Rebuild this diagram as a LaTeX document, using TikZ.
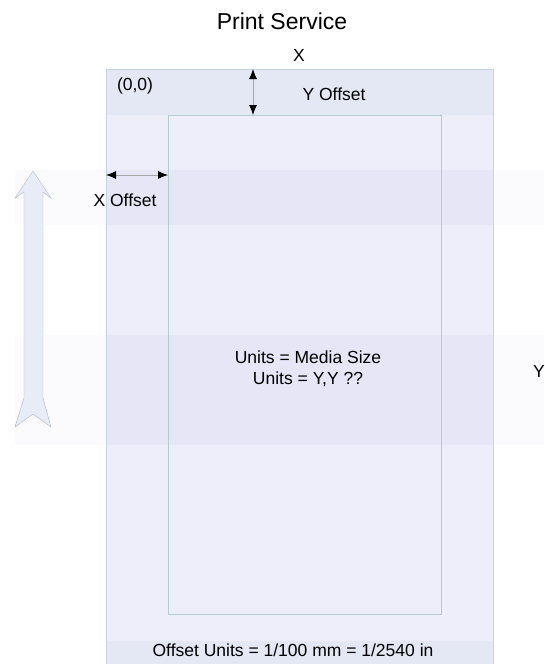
\documentclass[tikz,border=0pt]{standalone}
\usepackage{fontspec}
\setmainfont{Liberation Sans}
\usepackage{tikz}
\usetikzlibrary{arrows.meta}

\definecolor{mediafill}{HTML}{EEEEFB}
\definecolor{bandfill}{HTML}{E4E8F4}
\definecolor{mediaedge}{HTML}{C4D4E0}
\definecolor{pageedge}{HTML}{B4CCCC}
\definecolor{feedfill}{HTML}{E8ECF6}
\definecolor{feededge}{HTML}{ADB5C5}

\tikzset{
  lbl/.style={font=\fontsize{17.5}{21}\selectfont, inner sep=0pt},
  titlelbl/.style={font=\fontsize{23}{27}\selectfont, inner sep=0pt},
  offarrow/.style={draw=gray!70, line width=0.8pt,
    {Latex[length=10pt,width=8pt,black]}-{Latex[length=10pt,width=8pt,black]}},
  faintband/.style={fill=blue!30!gray, opacity=0.025},
}

\begin{document}
\begin{tikzpicture}[x=1pt,y=-1pt]
\useasboundingbox (0,0) rectangle (544,664);

% to draw media sheet and its bands
\fill [mediafill] (106,69) rectangle (493,666);
\fill [bandfill] (106,69) rectangle (493,115);
\fill [bandfill] (106,641) rectangle (493,666);
\fill [faintband] (15,170) rectangle (544,225);
\fill [faintband] (15,335) rectangle (544,445);
\fill [faintband] (106,170) rectangle (493,225);
\fill [faintband] (106,335) rectangle (493,445);
\draw [mediaedge] (106,666) -- (106,69) -- (493,69) -- (493,666);

% to draw printable area
\draw [pageedge] (168,115) rectangle (441,614);

% to draw paper feed arrow
\draw [feededge, fill=feedfill, line join=miter]
  (33,171) -- (51,198) -- (43,192) -- (43,398) -- (51,427) -- (33,414)
  -- (15,427) -- (24,398) -- (24,192) -- (15,198) -- cycle;

% to write labels
\node [titlelbl] (title) at (282,21.5) {Print Service};
\node [lbl] (xaxis) at (299,55) {X};
\node [lbl, anchor=west] (yaxis) at (533,371.5) {Y};
\node [lbl] (origin) at (135,86) {(0,0)};
\node [lbl] (yofflbl) at (334,94) {Y Offset};
\node [lbl] (xofflbl) at (125,200.5) {X Offset};
\node [lbl, align=center] (units) at (308,369) {Units = Media Size\\Units = Y,Y ??};
\node [lbl] (offunits) at (293,650) {Offset Units = 1/100 mm = 1/2540 in};

% to draw offset arrows
\coordinate (ytop) at (253,69);
\coordinate (ybot) at (253,115);
\coordinate (xleft) at (106,175);
\coordinate (xright) at (168,175);
\draw [offarrow] (ytop) -- (ybot);
\draw [offarrow] (xleft) -- (xright);
\end{tikzpicture}
\end{document}
